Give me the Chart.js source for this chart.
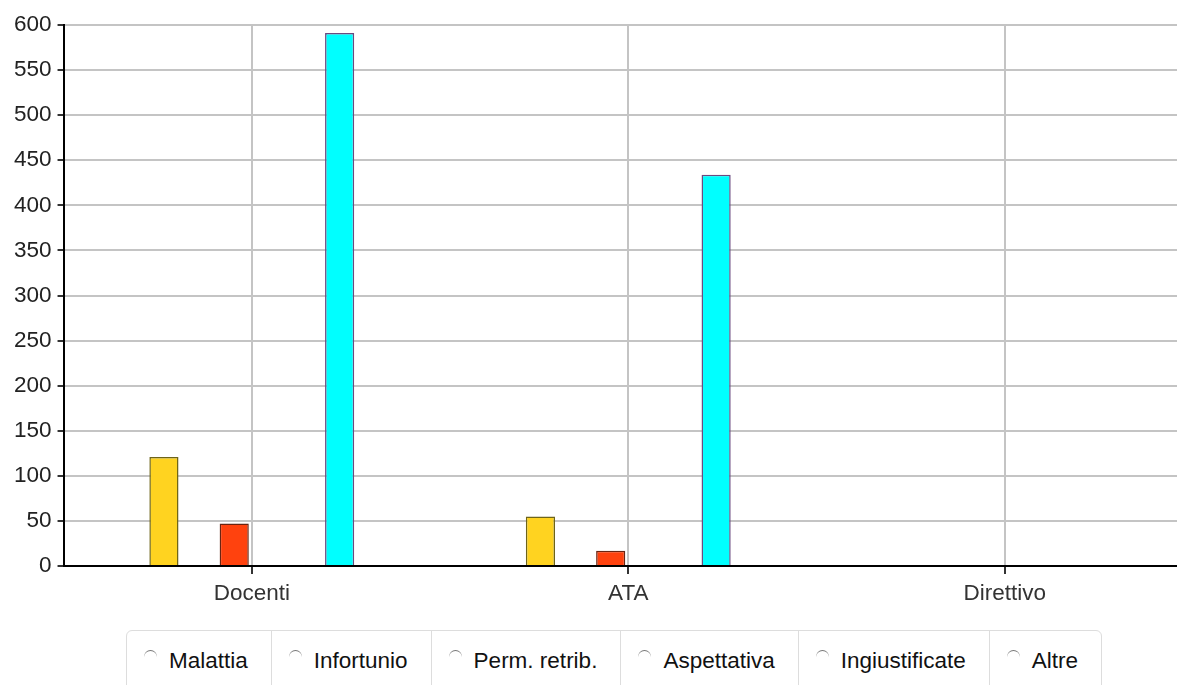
<!DOCTYPE html>
<html lang="it">
<head>
<meta charset="utf-8">
<title>Assenze</title>
<script src="https://cdn.jsdelivr.net/npm/chart.js@4.4.1/dist/chart.umd.min.js"></script>
<style>
    html, body { margin: 0; padding: 0; background: #fff; overflow: hidden; }
    body { width: 1177px; height: 685px; font-family: Arial, "Liberation Sans", sans-serif; }
    #wrap { position: relative; width: 1193px; height: 613px; }
    #legenda {
        position: absolute; left: 126px; top: 630px;
        display: flex; border: 1px solid #ddd; border-radius: 6px;
        height: 62px; box-sizing: border-box;
    }
    #legenda .voce {
        display: flex; align-items: center; padding: 0 23px 0 17px;
        border-left: 1px solid #ddd; font-size: 22.5px; color: #111;
    }
    #legenda .voce:first-child { border-left: none; }
    #legenda .radio {
        width: 13px; height: 13px; border-radius: 50%;
        border-top: 1.5px solid #777; margin-right: 12px; margin-top: -9px;
    }
</style>
</head>
<body>
<div id="wrap"><canvas id="assenzeChart"></canvas></div>
<div id="legenda"></div>

<script>
// DATI
const categorie = ['Docenti', 'ATA', 'Direttivo'];
const serie = ['Malattia', 'Infortunio', 'Perm. retrib.', 'Aspettativa', 'Ingiustificate', 'Altre'];
const malattia = [121, 55, 0];
const infortunio = [0, 0, 0];
const permRetrib = [47, 17, 0];
const aspettativa = [0, 0, 0];
const ingiustificate = [0, 0, 0];
const altre = [591, 434, 0];

const valori = [malattia, infortunio, permRetrib, aspettativa, ingiustificate, altre];
const colori = ['#ffd320', '#004586', '#ff420e', '#579d1c', '#7e0021', '#00ffff'];
const bordi = ['#6e6418', '#002a50', '#6a2412', '#2f5510', '#400010', '#6b4a80'];

// GRAFICO
const police = { family: 'Arial, "Liberation Sans", sans-serif', size: 22.5 };
const ctx = document.getElementById('assenzeChart').getContext('2d');
new Chart(ctx, {
    type: 'bar',
    data: {
        labels: categorie,
        datasets: serie.map((nome, i) => ({
            label: nome,
            data: valori[i],
            backgroundColor: colori[i],
            borderColor: bordi[i],
            borderWidth: c => (c.raw ? 1.5 : 0), // niente bordo sulle barre a zero
            borderSkipped: 'start',
            categoryPercentage: 0.56,
            barPercentage: 0.83
        }))
    },
    options: {
        responsive: true,
        maintainAspectRatio: false,
        animation: false,
        layout: { padding: { top: 25, left: 8, right: 0, bottom: 0 } },
        plugins: {
            legend: { display: false },
            tooltip: { enabled: false }
        },
        scales: {
            x: {
                grid: {
                    offset: false, // linee verticali al centro delle categorie
                    color: '#c4c4c4',
                    lineWidth: 2,
                    tickLength: 8,
                    tickColor: '#333'
                },
                border: { color: '#000', width: 2 },
                ticks: { color: '#333', padding: 6, font: police }
            },
            y: {
                min: 0,
                max: 600,
                grid: {
                    color: '#c4c4c4',
                    lineWidth: 2,
                    tickLength: 6,
                    tickColor: '#333'
                },
                border: { color: '#000', width: 2 },
                ticks: { stepSize: 50, color: '#222', padding: 6, font: police }
            }
        }
    }
});

// LEGENDA HTML
const legenda = document.getElementById('legenda');
serie.forEach(nome => {
    const voce = document.createElement('div');
    voce.className = 'voce';
    voce.innerHTML = `<span class="radio"></span>${nome}`;
    legenda.appendChild(voce);
});
</script>
</body>
</html>
